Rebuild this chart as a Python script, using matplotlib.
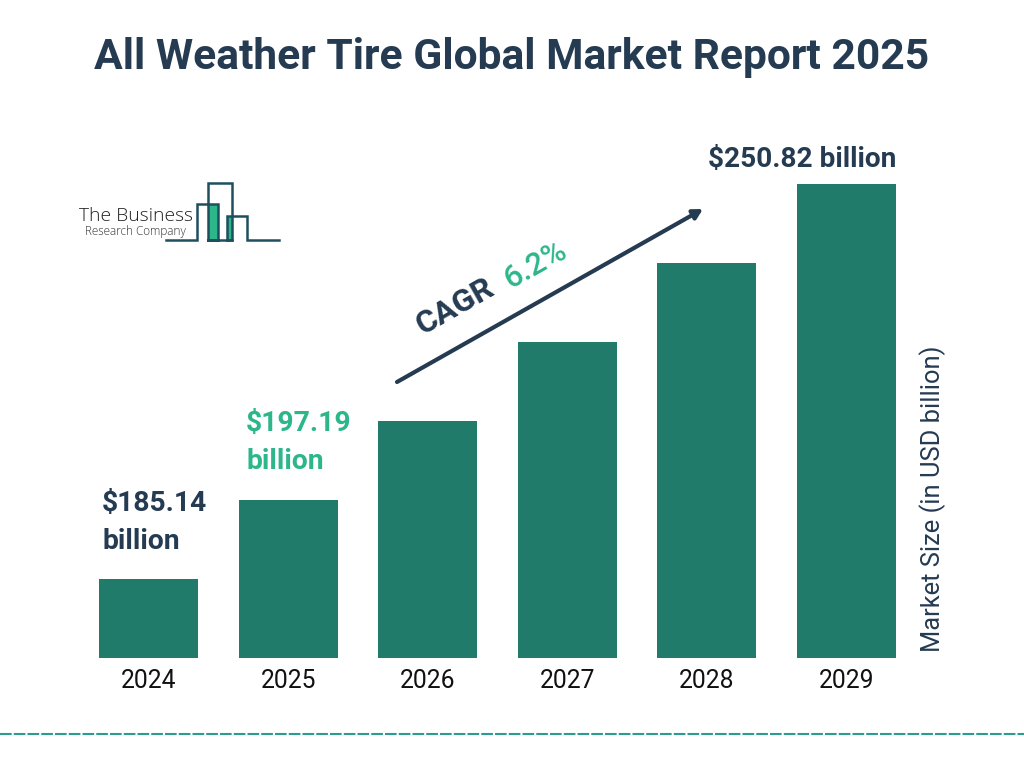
import matplotlib
matplotlib.use("Agg")
import matplotlib.pyplot as plt
from matplotlib.patches import Rectangle

plt.rcParams['font.family'] = ['Roboto', 'DejaVu Sans']

years = ["2024", "2025", "2026", "2027", "2028", "2029"]
# bars in the picture rise in equal steps, so heights are read as steps
bar_steps = [1, 2, 3, 4, 5, 6]
label_2024 = "$185.14\nbillion"
label_2025 = "$197.19\nbillion"
label_2029 = "$250.82 billion"

NAVY = "#253B52"
BAR = "#217B6B"
GREEN = "#2DB68A"
TEAL = "#1F4E5F"

W, H = 1024, 768
fig = plt.figure(figsize=(W / 100, H / 100), dpi=100, facecolor="white")

# main chart axes, placed so the bars land where they are in the reference
ax = fig.add_axes([79.2 / W, (H - 657.5) / H, 837 / W, 473.5 / H])
ax.bar(range(len(years)), bar_steps, width=0.71, color=BAR)
ax.set_xlim(-0.5, 5.5)
ax.set_ylim(0, 6)
ax.set_xticks(range(len(years)))
ax.set_xticklabels(years, fontsize=17.7, color="#111111")
ax.tick_params(axis="x", length=0, pad=8)
ax.set_yticks([])
for s in ax.spines.values():
    s.set_visible(False)

# overlay in pixel coords for the labels, logo and arrow
ov = fig.add_axes([0, 0, 1, 1], facecolor="none")
ov.set_xlim(0, W)
ov.set_ylim(H, 0)
ov.axis("off")

ov.text(512, 57, "All Weather Tire Global Market Report 2025", ha="center", va="center",
        fontsize=30.7, fontweight="bold", color=NAVY)

ov.text(102, 522.5, label_2024, ha="left", va="center", fontsize=20.3, fontweight="bold",
        color=NAVY, linespacing=1.52)
ov.text(246, 442.5, label_2025, ha="left", va="center", fontsize=20.3, fontweight="bold",
        color=GREEN, linespacing=1.52)
ov.text(802, 160, label_2029, ha="center", va="center", fontsize=20.2, fontweight="bold",
        color=NAVY)

ov.text(933, 499, "Market Size (in USD billion)", rotation=90, ha="center", va="center",
        fontsize=18.4, color=NAVY)

# CAGR arrow
ov.annotate("", xy=(703, 209), xytext=(397, 382),
            arrowprops=dict(arrowstyle="-|>,head_length=0.55,head_width=0.3", lw=3,
                            color=NAVY, shrinkA=0, shrinkB=0))
ov.text(455, 306, "CAGR", rotation=29.5, rotation_mode="anchor", ha="center", va="center",
        fontsize=23, fontweight="bold", color=NAVY)
ov.text(535, 265, "6.2%", rotation=29.5, rotation_mode="anchor", ha="center", va="center",
        fontsize=22.5, fontweight="medium", color=GREEN)

# logo
ov.text(79, 216, "The Business", ha="left", va="center", fontsize=13.9, color="#222222",
        family=["Open Sans", "DejaVu Sans"], fontweight="light")
ov.text(85, 232, "Research Company", ha="left", va="center", fontsize=8.5, color="#333333",
        family=["Open Sans", "DejaVu Sans"], fontweight="light")
ov.add_patch(Rectangle((209, 204), 9, 36, facecolor=GREEN, edgecolor="none"))
ov.add_patch(Rectangle((227, 216), 5, 24, facecolor=GREEN, edgecolor="none"))
ov.plot([166, 197, 197, 218, 218, 208, 208, 232, 232, 208], [240, 240, 204, 204, 240, 240, 183, 183, 240, 240],
        color=TEAL, lw=1.8, solid_joinstyle="miter")
ov.plot([227, 227, 247, 247, 279], [240, 216, 216, 240, 240], color=TEAL, lw=1.8,
        solid_joinstyle="miter")
ov.plot([227, 232], [240, 240], color=TEAL, lw=1.8)

# dashed footer line
ov.plot([0, W], [734, 734], color="#2A9D8F", lw=1.5, dashes=(5.6, 1.0))

fig.savefig("out.png", dpi=100)
